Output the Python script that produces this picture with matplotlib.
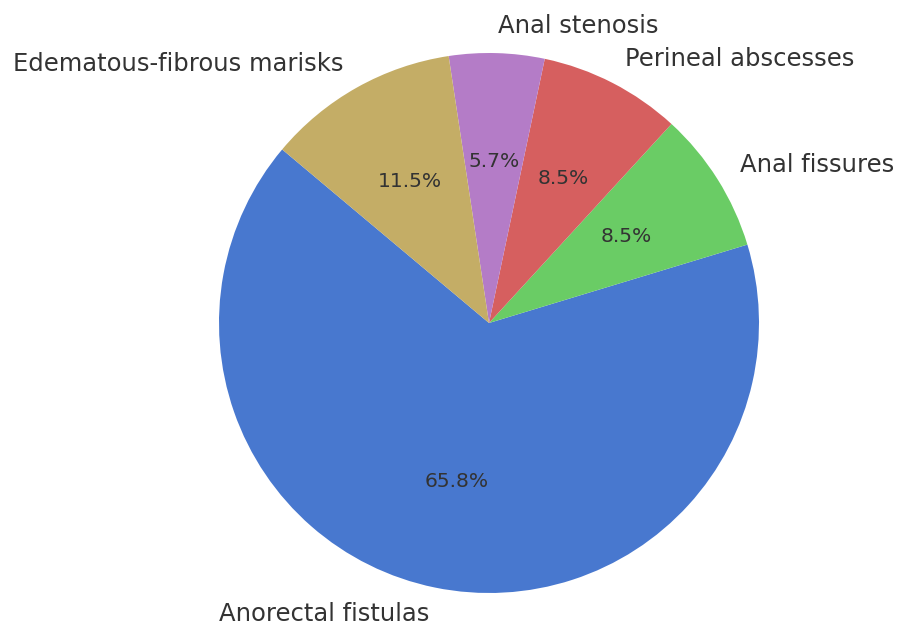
import matplotlib.pyplot as plt

labels = ["Anorectal fistulas", "Anal fissures", "Perineal abscesses",
          "Anal stenosis", "Edematous-fibrous marisks"]
shares = [65.8, 8.5, 8.5, 5.7, 11.5]
colors = ["#4878CF", "#6ACC65", "#D65F5F", "#B47CC7", "#C4AD66"]

fig = plt.figure(figsize=(9.09, 6.27), dpi=100)
# pie radius ~270 px, centre at (489, 323) px
r = 270.0
cx, cy = 489.0, 627.0 - 323.0
half = 1.25 * r
ax = fig.add_axes([(cx - half) / 909, (cy - half) / 627, 2 * half / 909, 2 * half / 627])

wedges, texts, autotexts = ax.pie(shares, labels=labels, colors=colors,
                                  autopct="%1.1f%%", startangle=140,
                                  textprops={"color": "#333333"})
for t in texts:
    t.set_fontsize(17.5)
for t in autotexts:
    t.set_fontsize(14.6)
ax.set_xlim(-1.25, 1.25)
ax.set_ylim(-1.25, 1.25)
ax.set_aspect("equal")

fig.savefig("out.png", dpi=100)
